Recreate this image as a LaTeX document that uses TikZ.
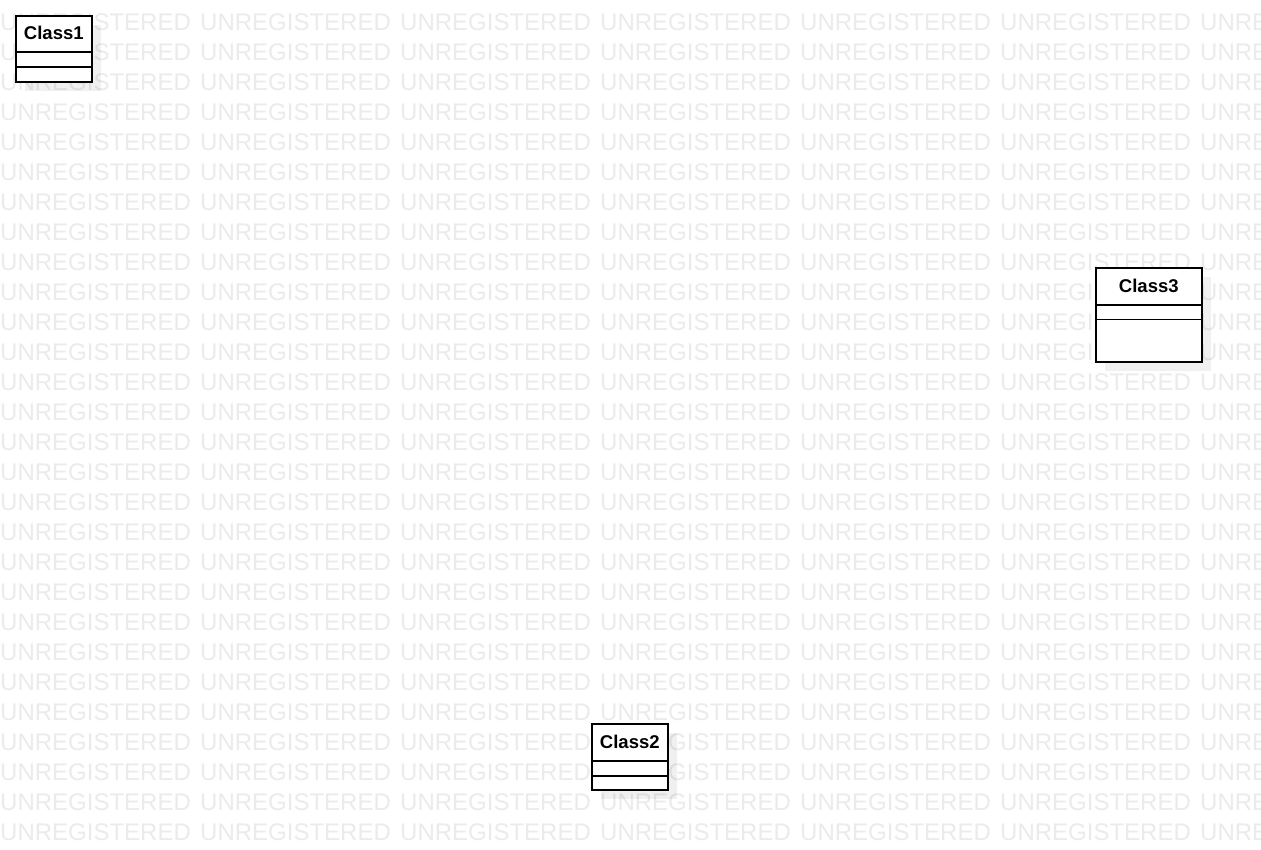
\documentclass[tikz,border=0pt]{standalone}
\usepackage{fontspec}
\setmainfont{Liberation Sans}
\usetikzlibrary{positioning,shadows}

\begin{document}
\begin{tikzpicture}[
    x=1pt, y=-1pt,
    watermark/.style={inner sep=0pt, anchor=base west, text=black!8, font=\fontsize{24}{24}\selectfont},
    classbox/.style={draw, line width=1.6pt, fill=white, anchor=north west, inner sep=0pt,
        drop shadow={shadow xshift=9pt, shadow yshift=-9pt, fill=black, opacity=0.06}},
    classname/.style={anchor=north, inner sep=0pt, minimum height=36pt, font=\fontsize{18.5}{18.5}\selectfont\bfseries},
    divider/.style={line width=1.2pt}
]
\useasboundingbox (0,0) rectangle (1261,849);
\fill[white] (0,0) rectangle (1261,849);
% watermark
\begin{scope}
\clip (0,0) rectangle (1261,849);
\foreach \col in {0,...,6}
  \foreach \row in {0,...,27}
    \node[watermark] (wm-\col-\row) at (200*\col, 30+30*\row) {UNREGISTERED};
\end{scope}
% classes
\node[classbox, minimum width=76pt, minimum height=66pt] (class1) at (15,15) {};
\node[classname] (class1-name) at (class1.north) {Class1};
\draw[divider] ([yshift=-37pt]class1.north west) -- ([yshift=-37pt]class1.north east);
\draw[divider] ([yshift=-52pt]class1.north west) -- ([yshift=-52pt]class1.north east);

\node[classbox, minimum width=106pt, minimum height=94pt] (class3) at (1095,267) {};
\node[classname, minimum height=37pt] (class3-name) at (class3.north) {Class3};
\draw[divider] ([yshift=-38pt]class3.north west) -- ([yshift=-38pt]class3.north east);
\draw[divider] ([yshift=-52.5pt]class3.north west) -- ([yshift=-52.5pt]class3.north east);

\node[classbox, minimum width=76pt, minimum height=66pt] (class2) at (591,723) {};
\node[classname, minimum height=37pt] (class2-name) at (class2.north) {Class2};
\draw[divider] ([yshift=-38pt]class2.north west) -- ([yshift=-38pt]class2.north east);
\draw[divider] ([yshift=-53pt]class2.north west) -- ([yshift=-53pt]class2.north east);
\end{tikzpicture}
\end{document}
